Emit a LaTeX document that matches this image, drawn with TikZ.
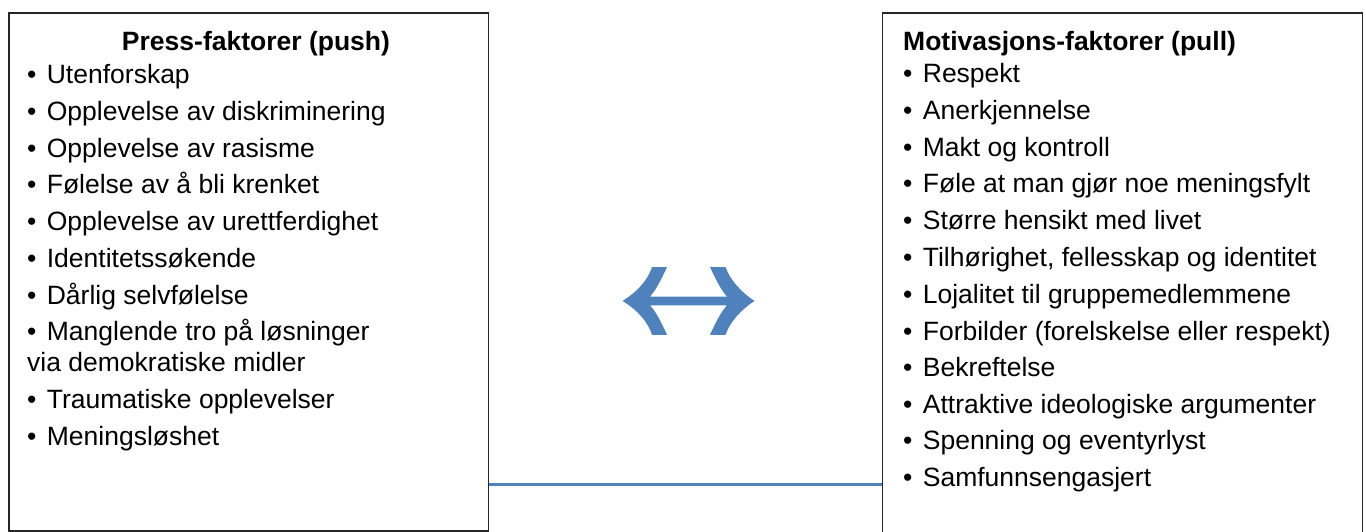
\documentclass[tikz,border=0pt]{standalone}
\usepackage{fontspec}
\setmainfont{Liberation Sans}
\definecolor{accent}{RGB}{79,129,189}
\newcommand{\bul}{•\hspace{10.4pt}}
\begin{document}
\begin{tikzpicture}[x=1pt,y=-1pt,
  box/.style={draw=black!85, line width=1.6pt, inner sep=0pt, anchor=north west},
  item/.style={anchor=base west, inner sep=0pt, font=\fontsize{26.5}{30.5}\selectfont},
  ttl/.style={anchor=base west, inner sep=0pt, font=\fontsize{26.5}{30.5}\selectfont\bfseries},
  link/.style={draw=accent, line width=3pt},
]
\useasboundingbox (0,0) rectangle (1366,531);
\node[box, minimum width=479.5pt, minimum height=518pt] (L) at (8,12) {};
\node[box, minimum width=480pt, minimum height=540pt] (R) at (881.5,12) {};
\draw[link] (L.east |- 0,484.5) -- (R.west |- 0,484.5);

% left column
\node[ttl, anchor=base] (lt) at (256,50) {Press-faktorer (push)};
\node[item] (l1) at (27,83) {\bul Utenforskap};
\node[item] (l2) at (27,120) {\bul Opplevelse av diskriminering};
\node[item] (l3) at (27,157) {\bul Opplevelse av rasisme};
\node[item] (l4) at (27,193) {\bul Følelse av å bli krenket};
\node[item] (l5) at (27,230) {\bul Opplevelse av urettferdighet};
\node[item] (l6) at (27,267) {\bul Identitetssøkende};
\node[item] (l7) at (27,304) {\bul Dårlig selvfølelse};
\node[item] (l8) at (27,340) {\bul Manglende tro på løsninger};
\node[item] (l8b) at (27,371) {via demokratiske midler};
\node[item] (l9) at (27,408) {\bul Traumatiske opplevelser};
\node[item] (l10) at (27,445) {\bul Meningsløshet};

% right column
\node[ttl] (rt) at (903,50) {Motivasjons-faktorer (pull)};
\node[item] (r1) at (903,82) {\bul Respekt};
\node[item] (r2) at (903,119) {\bul Anerkjennelse};
\node[item] (r3) at (903,156) {\bul Makt og kontroll};
\node[item] (r4) at (903,192) {\bul Føle at man gjør noe meningsfylt};
\node[item] (r5) at (903,229) {\bul Større hensikt med livet};
\node[item] (r6) at (903,266) {\bul Tilhørighet, fellesskap og identitet};
\node[item] (r7) at (903,303) {\bul Lojalitet til gruppemedlemmene};
\node[item] (r8) at (903,340) {\bul Forbilder (forelskelse eller respekt)};
\node[item] (r9) at (903,376) {\bul Bekreftelse};
\node[item] (r10) at (903,413) {\bul Attraktive ideologiske argumenter};
\node[item] (r11) at (903,449) {\bul Spenning og eventyrlyst};
\node[item] (r12) at (903,486) {\bul Samfunnsengasjert};

% double arrow
\fill[accent] (622.5,300.9)
  .. controls (637,292) and (648,280) .. (652,267)
  -- (667,267)
  .. controls (661,280) and (656,290) .. (650,296.5)
  -- (727,296.5)
  .. controls (721,290) and (716,280) .. (710,267)
  -- (725.5,267)
  .. controls (730,280) and (741,292) .. (754.5,300.9)
  .. controls (741,309.8) and (730,321.8) .. (725.5,334.8)
  -- (710,334.8)
  .. controls (716,321.8) and (721,311.8) .. (727,305.3)
  -- (650,305.3)
  .. controls (656,311.8) and (661,321.8) .. (667,334.8)
  -- (652,334.8)
  .. controls (648,321.8) and (637,309.8) .. (622.5,300.9) -- cycle;
\end{tikzpicture}
\end{document}
